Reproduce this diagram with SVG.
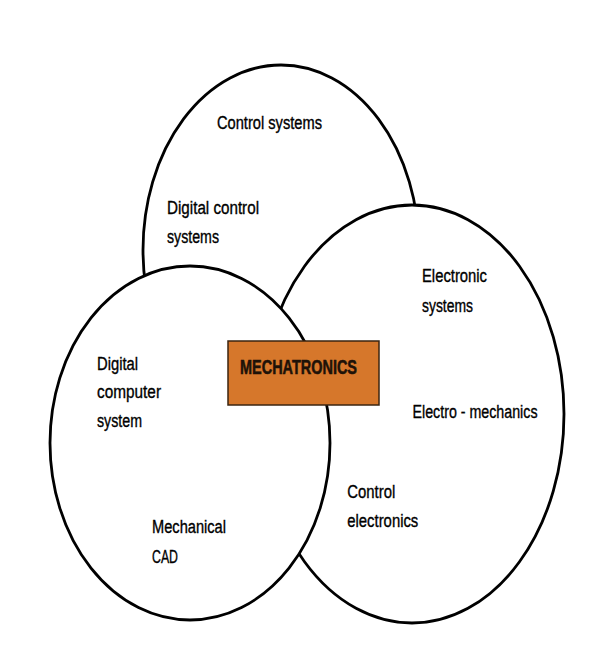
<svg xmlns="http://www.w3.org/2000/svg" width="600" height="651" viewBox="0 0 600 651">
<style>
.ring{fill:#fff;stroke:#000;stroke-width:2.8}
.lbl{font-family:"Liberation Sans",Arial,sans-serif;font-size:18px;fill:#000;stroke:#000;stroke-width:0.35}
.core{font-family:"Liberation Sans",Arial,sans-serif;font-size:21px;font-weight:bold;fill:#1e1208;stroke:#1e1208;stroke-width:0.6}
</style>
<rect width="600" height="651" fill="#fff"/>
<g id="control-systems">
<ellipse class="ring" cx="281" cy="250" rx="138" ry="185"/>
</g>
<g id="electronic-systems">
<ellipse class="ring" cx="412" cy="414" rx="152" ry="209"/>
</g>
<g id="computer-systems">
<ellipse class="ring" cx="190" cy="443" rx="140" ry="177"/>
</g>
<g id="mechatronics">
<rect x="228" y="341" width="151" height="64" fill="#D6772B" stroke="#3b2410" stroke-width="1.5"/>
<text class="core" x="240" y="373.5" textLength="117" lengthAdjust="spacingAndGlyphs">MECHATRONICS</text>
</g>
<g id="labels">
<text class="lbl" x="217" y="128.5" textLength="105" lengthAdjust="spacingAndGlyphs">Control systems</text>
<text class="lbl" x="167" y="214.3" textLength="92" lengthAdjust="spacingAndGlyphs">Digital control</text>
<text class="lbl" x="167" y="243.3" textLength="52" lengthAdjust="spacingAndGlyphs">systems</text>
<text class="lbl" x="97" y="370" textLength="41" lengthAdjust="spacingAndGlyphs">Digital</text>
<text class="lbl" x="97" y="398.3" textLength="64" lengthAdjust="spacingAndGlyphs">computer</text>
<text class="lbl" x="97" y="426.5" textLength="45" lengthAdjust="spacingAndGlyphs">system</text>
<text class="lbl" x="152" y="533" textLength="74" lengthAdjust="spacingAndGlyphs">Mechanical</text>
<text class="lbl" x="152" y="563" textLength="26" lengthAdjust="spacingAndGlyphs">CAD</text>
<text class="lbl" x="422" y="281.7" textLength="65" lengthAdjust="spacingAndGlyphs">Electronic</text>
<text class="lbl" x="422" y="311.5" textLength="51" lengthAdjust="spacingAndGlyphs">systems</text>
<text class="lbl" x="412.5" y="418.3" textLength="125" lengthAdjust="spacingAndGlyphs">Electro - mechanics</text>
<text class="lbl" x="347.3" y="498.3" textLength="48" lengthAdjust="spacingAndGlyphs">Control</text>
<text class="lbl" x="347.3" y="527.3" textLength="71" lengthAdjust="spacingAndGlyphs">electronics</text>
</g>
</svg>
